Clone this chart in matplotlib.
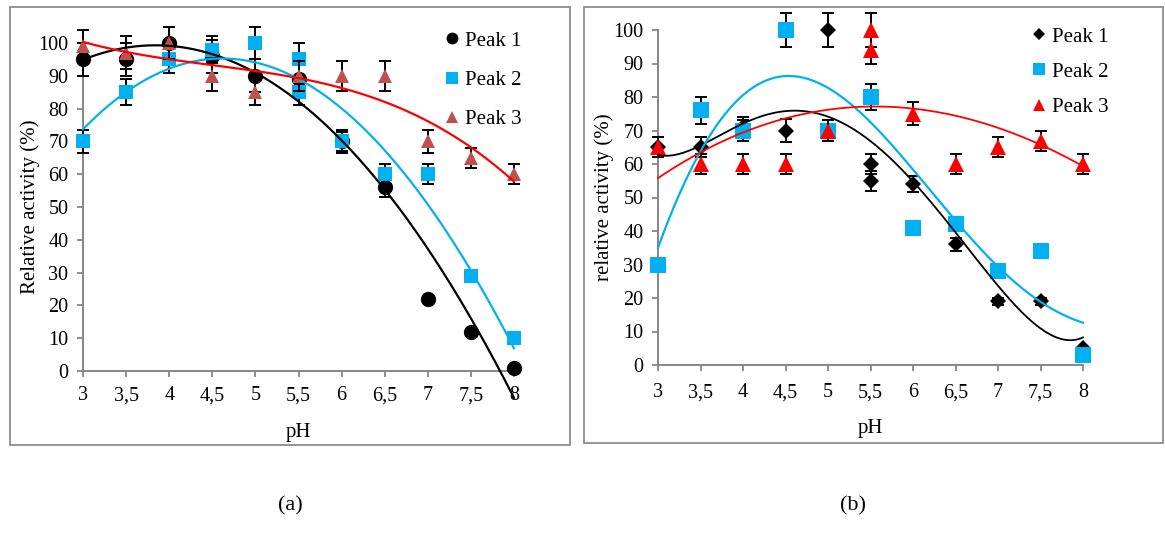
import numpy as np
import matplotlib
matplotlib.use("Agg")
import matplotlib.pyplot as plt
from matplotlib.lines import Line2D
from matplotlib.patches import Rectangle

plt.rcParams['font.family'] = ['Liberation Serif', 'DejaVu Serif']

# ---------------- data: panel (a) ----------------
a_x1 = [3, 3.5, 4, 4.5, 5, 5.5, 6, 6.5, 7, 7.5, 8]
a_p1 = [95, 95, 100, 96, 90, 89, 70, 56, 22, 12, 1]
a_e1 = [5, 5, 5, 5, 5, 5, 3.5, 3, 0, 0, 0]

a_x2 = [3, 3.5, 4, 4.5, 5, 5.5, 5.5, 6, 6.5, 7, 7.5, 8]
a_p2 = [70, 85, 95, 98, 100, 95, 85, 70, 60, 60, 29, 10]
a_e2 = [3.5, 4, 4, 4, 5, 5, 4, 3, 3, 3, 0, 0]

a_x3 = [3, 3.5, 4, 4.5, 5, 5.5, 6, 6.5, 7, 7.5, 8]
a_p3 = [99, 97, 100, 90, 85, 90, 90, 90, 70, 65, 60]
a_e3 = [5, 5, 5, 4.5, 4, 4.5, 4.5, 4.5, 3.5, 3, 3]

# trendline values
trend_x = [3, 3.5, 4, 4.5, 5, 5.5, 6, 6.5, 7, 7.5, 8]
a_t1 = [95, 98.5, 99.2, 96.4, 90.5, 83, 70, 56, 36.5, 16, -8]
a_t2 = [74, 84.7, 91.8, 95.4, 94.4, 89, 80, 67, 52, 29, 7.6]
a_t3 = [101, 96.4, 94.6, 93.4, 91.8, 89.8, 86.5, 82, 75.5, 67.9, 58.2]

# ---------------- data: panel (b) ----------------
b_x1 = [3, 3.5, 4, 4.5, 5, 5.5, 5.5, 6, 6.5, 7, 7.5, 8]
b_p1 = [65, 65, 71, 70, 100, 60, 55, 54, 36, 19, 19, 5]
b_e1 = [3, 3, 3, 3.5, 5, 3, 3, 2.5, 2, 1, 1, 0]

b_x2 = [3, 3.5, 4, 4.5, 5, 5.5, 6, 6.5, 7, 7.5, 8]
b_p2 = [30, 76, 70, 100, 70, 80, 41, 42, 28, 34, 3]
b_e2 = [0, 4, 3, 5, 3, 4, 0, 0, 0, 0, 0]

b_x3 = [3, 3.5, 4, 4.5, 5, 5.5, 5.5, 6, 6.5, 7, 7.5, 8]
b_p3 = [65, 60, 60, 60, 70, 100, 94, 75, 60, 65, 67, 60]
b_e3 = [3, 3, 3, 3, 3, 5, 4, 3.5, 3, 3, 3, 3]

b_t1 = [62.7, 65.5, 72, 76, 74, 66.6, 55.2, 39.4, 23.6, 11, 8.2]
b_t2 = [35, 64, 80, 86.7, 83, 72, 58.2, 43.4, 29.5, 18.6, 12.7]
b_t3 = [55.7, 63.7, 69.1, 74, 76, 77, 76.8, 74.3, 70.6, 66.1, 59.2]

xticks = [3, 3.5, 4, 4.5, 5, 5.5, 6, 6.5, 7, 7.5, 8]
xtick_labels = ['3', '3,5', '4', '4,5', '5', '5,5', '6', '6,5', '7', '7,5', '8']
yticks = [0, 10, 20, 30, 40, 50, 60, 70, 80, 90, 100]
legend_labels = ['Peak 1', 'Peak 2', 'Peak 3']

BLUE = '#00B0F0'
BROWN = '#C0504D'
RED = '#FF0000'
GRAY = '#868686'

W, H = 1165, 534
fig = plt.figure(figsize=(W / 100, H / 100), dpi=100)


def px_axes(x0, x1, y0, y1):
    return fig.add_axes([x0 / W, (H - y0) / H, (x1 - x0) / W, (y0 - y1) / H])


def frame(x0, y0, x1, y1):
    fig.patches.append(Rectangle((x0 / W, (H - y1) / H), (x1 - x0) / W, (y1 - y0) / H,
                                 transform=fig.transFigure, fill=False,
                                 edgecolor='#8C8C8C', lw=1.3))


def style(ax, ylabel, xpad, xlabelpad, ylabelpad):
    ax.set_xlim(3, 8)
    ax.set_ylim(0, 100)
    for s in ['top', 'right']:
        ax.spines[s].set_visible(False)
    for s in ['left', 'bottom']:
        ax.spines[s].set_color(GRAY)
        ax.spines[s].set_linewidth(1.4)
    ax.set_xticks(xticks)
    ax.set_xticklabels(xtick_labels)
    ax.set_yticks(yticks)
    ax.tick_params(axis='both', colors=GRAY, labelcolor='black', labelsize=14.5,
                   length=4.5, width=1.3, direction='out')
    ax.tick_params(axis='x', pad=xpad)
    ax.tick_params(axis='y', pad=6)
    ax.set_xlabel('pH', fontsize=15, labelpad=xlabelpad)
    ax.set_ylabel(ylabel, fontsize=15, labelpad=ylabelpad)
    ax.patch.set_alpha(0)


def series(ax, x, y, e, marker, color, ms, z):
    ax.errorbar(x, y, yerr=e, fmt='none', ecolor='black', elinewidth=1.4,
                capsize=4, capthick=1.4, zorder=z, clip_on=False)
    ax.plot(x, y, linestyle='none', marker=marker, color=color, markersize=ms,
            markeredgewidth=0, zorder=z + 0.5, clip_on=False)


def trend(ax, tx, ty, deg, color, lw):
    c = np.polyfit(tx, ty, deg)
    xs = np.linspace(3, 8, 300)
    ax.plot(xs, np.polyval(c, xs), color=color, lw=lw, zorder=10, clip_on=False)


# ---------------- panel (a) ----------------
frame(10, 7, 570, 445)
ax1 = px_axes(83, 514, 371, 43)
style(ax1, 'Relative activity (%)', 6.5, 12.5, -1)
series(ax1, a_x1, a_p1, a_e1, 'o', 'black', 11, 3)
series(ax1, a_x2, a_p2, a_e2, 's', BLUE, 9.5, 4)
series(ax1, a_x3, a_p3, a_e3, '^', BROWN, 10.5, 5)
trend(ax1, trend_x, a_t1, 3, 'black', 1.6)
trend(ax1, trend_x, a_t2, 3, BLUE, 1.6)
trend(ax1, trend_x, a_t3, 3, RED, 1.6)
ha = [Line2D([], [], ls='none', marker='o', color='black', ms=8.5, mew=0),
      Line2D([], [], ls='none', marker='s', color=BLUE, ms=8, mew=0),
      Line2D([], [], ls='none', marker='^', color=BROWN, ms=8.5, mew=0)]
ax1.legend(ha, legend_labels, loc='upper left', bbox_to_anchor=(445 / W, 1 - 31 / H),
           bbox_transform=fig.transFigure, frameon=False, fontsize=15,
           handlelength=0.7, handletextpad=0.25, labelspacing=0.95,
           borderpad=0, borderaxespad=0)
fig.text(290 / W, 1 - 506 / H, '(a)', ha='center', va='center', fontsize=16)

# ---------------- panel (b) ----------------
frame(584, 7, 1163, 443)
ax2 = px_axes(658, 1083, 365, 30)
style(ax2, 'relative activity (%)', 8.5, 12.5, -0.5)
series(ax2, b_x1, b_p1, b_e1, 'D', 'black', 8, 3)
series(ax2, b_x2, b_p2, b_e2, 's', BLUE, 11.5, 4)
series(ax2, b_x3, b_p3, b_e3, '^', RED, 11, 5)
trend(ax2, trend_x, b_t1, 6, 'black', 1.3)
trend(ax2, trend_x, b_t2, 5, BLUE, 1.6)
trend(ax2, trend_x, b_t3, 3, RED, 1.3)
hb = [Line2D([], [], ls='none', marker='D', color='black', ms=6.5, mew=0),
      Line2D([], [], ls='none', marker='s', color=BLUE, ms=8.5, mew=0),
      Line2D([], [], ls='none', marker='^', color=RED, ms=8.5, mew=0)]
ax2.legend(hb, legend_labels, loc='upper left', bbox_to_anchor=(1032 / W, 1 - 27 / H),
           bbox_transform=fig.transFigure, frameon=False, fontsize=15,
           handlelength=0.7, handletextpad=0.25, labelspacing=0.745,
           borderpad=0, borderaxespad=0)
fig.text(853 / W, 1 - 506 / H, '(b)', ha='center', va='center', fontsize=16)

fig.savefig('out.png', dpi=100)
